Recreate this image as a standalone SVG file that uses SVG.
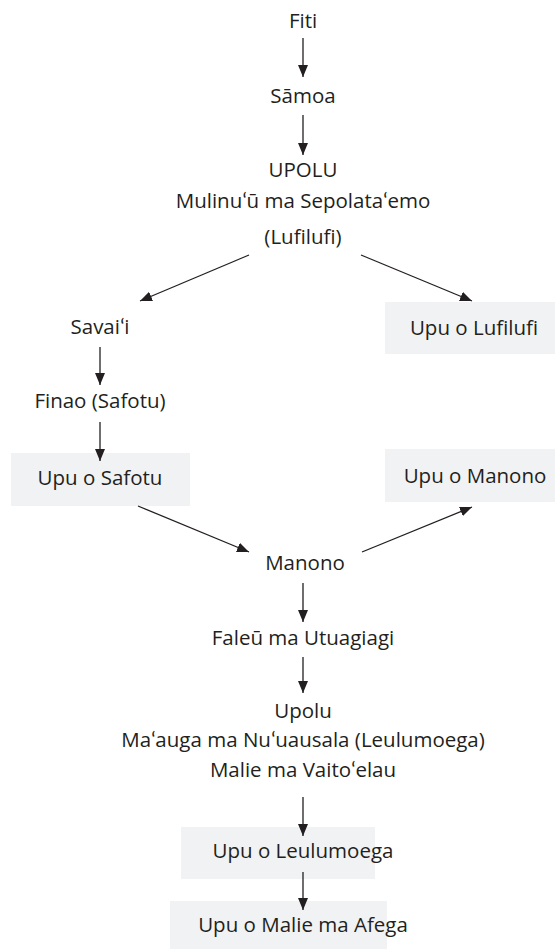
<svg xmlns="http://www.w3.org/2000/svg" width="555" height="949" viewBox="0 0 555 949">
<style>
text{font-family:"Open Sans",Lato,"Liberation Sans",sans-serif;font-size:20.5px;fill:#231f20;text-anchor:middle}
.box{fill:#f1f2f4}
.c{stroke:#231f20;stroke-width:1.3;fill:none;marker-end:url(#ah)}
</style>
<defs>
<marker id="ah" markerUnits="userSpaceOnUse" markerWidth="12" markerHeight="10" refX="12" refY="5" orient="auto">
<path d="M0,0 L12,5 L0,10 z" fill="#231f20"/>
</marker>
</defs>
<rect width="555" height="949" fill="#fff"/>
<g id="n-fiti"><text x="303" y="28">Fiti</text></g>
<g id="n-samoa"><text x="303" y="103">Sāmoa</text></g>
<g id="n-upolu1"><text x="303" y="177">UPOLU</text><text x="303" y="208">Mulinuʻū ma Sepolataʻemo</text><text x="303" y="244">(Lufilufi)</text></g>
<g id="n-savaii"><text x="100" y="334">Savaiʻi</text></g>
<g id="n-upulufilufi"><rect class="box" x="385" y="302" width="170" height="52"/><text x="474" y="335">Upu o Lufilufi</text></g>
<g id="n-finao"><text x="100" y="408">Finao (Safotu)</text></g>
<g id="n-upusafotu"><rect class="box" x="11" y="453" width="179" height="53"/><text x="100" y="485">Upu o Safotu</text></g>
<g id="n-upumanono"><rect class="box" x="385" y="449" width="170" height="53"/><text x="475" y="483">Upu o Manono</text></g>
<g id="n-manono"><text x="305" y="570">Manono</text></g>
<g id="n-faleu"><text x="303" y="645">Faleū ma Utuagiagi</text></g>
<g id="n-upolu2"><text x="303" y="718">Upolu</text><text x="303" y="747">Maʻauga ma Nuʻuausala (Leulumoega)</text><text x="303" y="777">Malie ma Vaitoʻelau</text></g>
<g id="n-upuleulumoega"><rect class="box" x="181" y="827" width="194" height="52"/><text x="303" y="858">Upu o Leulumoega</text></g>
<g id="n-upumalie"><rect class="box" x="170" y="901" width="217" height="52"/><text x="303" y="932">Upu o Malie ma Afega</text></g>
<g id="connectors">
<line class="c" x1="303" y1="38" x2="303" y2="77"/>
<line class="c" x1="303" y1="115" x2="303" y2="155"/>
<line class="c" x1="249" y1="255" x2="140" y2="301"/>
<line class="c" x1="361" y1="255" x2="472" y2="301"/>
<line class="c" x1="100" y1="347" x2="100" y2="385"/>
<line class="c" x1="100" y1="422" x2="100" y2="461"/>
<line class="c" x1="138" y1="506" x2="249" y2="552"/>
<line class="c" x1="362" y1="552" x2="472" y2="507"/>
<line class="c" x1="303" y1="583" x2="303" y2="622"/>
<line class="c" x1="303" y1="657" x2="303" y2="693"/>
<line class="c" x1="303" y1="797" x2="303" y2="836"/>
<line class="c" x1="303" y1="872" x2="303" y2="910"/>
</g>
</svg>
